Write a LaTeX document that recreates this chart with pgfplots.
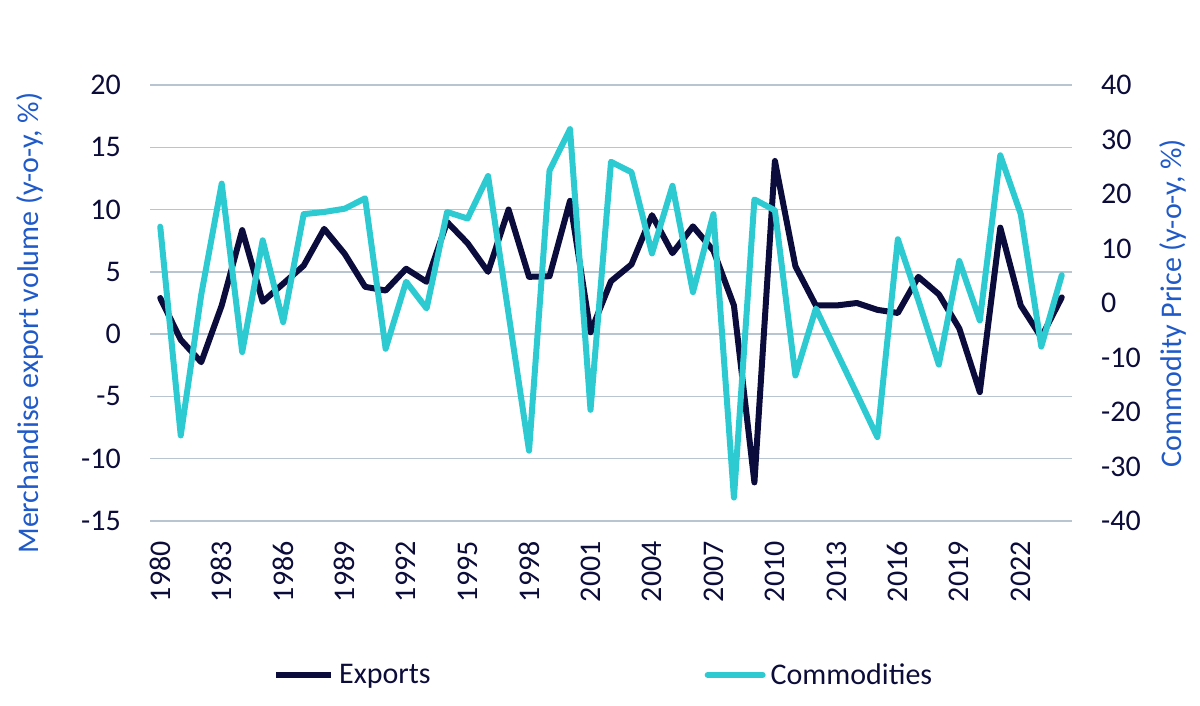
\documentclass[border=0pt]{standalone}
\usepackage{fontspec}
\setmainfont{Carlito}
\usepackage{pgfplots}
\usepackage{pgfplotstable}
\pgfplotsset{compat=1.18}
\definecolor{navyline}{HTML}{0B0B3C}
\definecolor{cyanline}{HTML}{2ECAD2}
\definecolor{lblue}{HTML}{1F5AC8}
\definecolor{gridc}{HTML}{B8C4D0}
\definecolor{ticktext}{HTML}{0C0C3A}

\pgfplotstableread{
year exports
1980 2.9
1981 -0.45
1982 -2.25
1983 2.3
1984 8.35
1985 2.6
1986 4.05
1987 5.5
1988 8.45
1989 6.45
1990 3.8
1991 3.5
1992 5.25
1993 4.2
1994 9.0
1995 7.3
1996 5.0
1997 10.0
1998 4.6
1999 4.65
2000 10.7
2001 0.15
2002 4.25
2003 5.6
2004 9.55
2005 6.5
2006 8.65
2007 6.7
2008 2.3
2009 -11.9
2010 13.9
2011 5.45
2012 2.3
2013 2.3
2014 2.5
2015 1.95
2016 1.7
2017 4.6
2018 3.2
2019 0.45
2020 -4.65
2021 8.55
2022 2.3
2023 -0.25
2024 2.95
}\exportstable

\pgfplotstableread{
year comm
1980 14.0
1981 -24.3
1982 1.5
1983 21.9
1984 -9.0
1985 11.5
1986 -3.5
1987 16.3
1988 16.7
1989 17.3
1990 19.2
1991 -8.4
1992 3.9
1993 -1.0
1994 16.7
1995 15.5
1996 23.3
1997 -2.0
1998 -27.1
1999 24.3
2000 31.9
2001 -19.6
2002 25.9
2003 24.0
2004 9.1
2005 21.5
2006 2.0
2007 16.3
2008 -35.7
2009 19.0
2010 17.0
2011 -13.3
2012 -1.0
2013 -8.9
2014 -16.7
2015 -24.6
2016 11.7
2017 0.5
2018 -11.3
2019 7.7
2020 -3.2
2021 27.1
2022 16.3
2023 -8.0
2024 5.1
}\commtable

\newcommand{\bigfont}{\fontsize{30bp}{36bp}\selectfont}

\begin{document}
\begin{tikzpicture}
\useasboundingbox (0,0) rectangle (1200bp,706bp);
\begin{axis}[
  at={(150bp,185bp)}, anchor=south west,
  width=922bp, height=436bp, scale only axis,
  xmin=1979.5, xmax=2024.5, ymin=-15, ymax=20,
  axis line style={draw=none},
  major tick length=0pt,
  xtick={1980,1983,1986,1989,1992,1995,1998,2001,2004,2007,2010,2013,2016,2019,2022},
  xticklabels={1980,1983,1986,1989,1992,1995,1998,2001,2004,2007,2010,2013,2016,2019,2022},
  x tick label style={rotate=90, anchor=east, inner sep=0pt, font=\bigfont, text=ticktext},
  xticklabel shift=20bp,
  ytick={-15,-10,-5,0,5,10,15,20},
  yticklabels={-15,-10,-5,0,5,10,15,20},
  y tick label style={anchor=east, inner sep=0pt, font=\bigfont, text=ticktext},
  yticklabel shift=29bp,
  ymajorgrids, grid style={gridc, line width=1.5bp},
  ylabel={Merchandise export volume (y-o-y, \%)},
  ylabel style={at={(axis description cs:-0.130,0.454)}, anchor=center, font=\bigfont, text=lblue, inner sep=0pt},
]
\addplot[navyline, line width=6bp, line join=round, line cap=round] table[x=year, y=exports] {\exportstable};
\end{axis}
\begin{axis}[
  at={(150bp,185bp)}, anchor=south west,
  width=922bp, height=436bp, scale only axis,
  xmin=1979.5, xmax=2024.5, ymin=-40, ymax=40,
  axis x line=none,
  axis y line*=right,
  axis line style={draw=none},
  major tick length=0pt,
  ytick={-40,-30,-20,-10,0,10,20,30,40},
  yticklabels={-40,-30,-20,-10,0,10,20,30,40},
  y tick label style={anchor=west, inner sep=0pt, font=\bigfont, text=ticktext},
  yticklabel shift=29bp,
  ylabel={Commodity Price (y-o-y, \%)},
  ylabel style={at={(axis description cs:1.109,0.500)}, anchor=center, font=\bigfont, text=lblue, inner sep=0pt},
  legend image code/.code={\draw[#1] (0bp,0bp) -- (55bp,0bp);},
  legend columns=2,
  legend style={at={(axis description cs:0.1334,-0.353)}, anchor=west, draw=none, fill=none, inner sep=0pt,
    font=\bigfont, text=ticktext,
    /tikz/every odd column/.append style={column sep=3bp},
    /tikz/every even column/.append style={column sep=272bp}},
]
\addlegendimage{navyline, line width=6bp}
\addlegendentry{Exports}
\addplot[cyanline, line width=6bp, line join=round, line cap=round] table[x=year, y=comm] {\commtable};
\addlegendentry{Commodities}
\end{axis}
\end{tikzpicture}
\end{document}
